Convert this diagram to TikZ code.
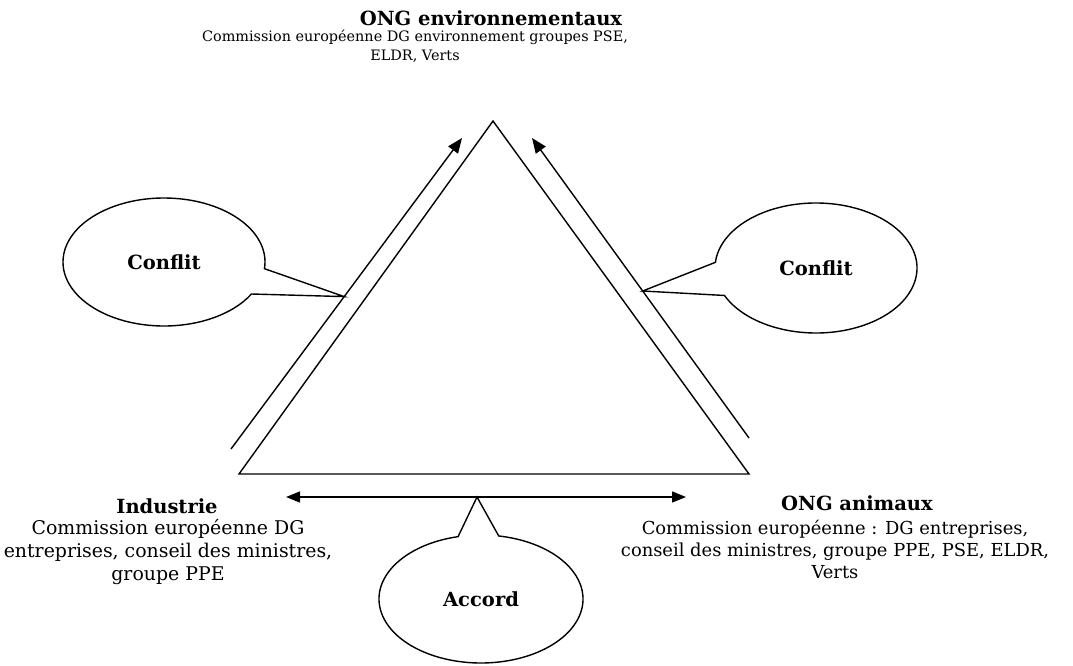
\documentclass[tikz,border=0pt]{standalone}
\usepackage{fontspec}
\setmainfont{DejaVu Serif}
\usetikzlibrary{arrows.meta,calc}
\begin{document}
\begin{tikzpicture}[x=1pt,y=-1pt,
  line/.style={line width=1.4pt, line join=miter},
  arr/.style={line, -{Triangle[length=15pt,width=12pt]}},
  harr/.style={line, {Triangle[length=14pt,width=11pt]}-{Triangle[length=14pt,width=11pt]}},
  bubble/.style={line, fill=white},
  ttl/.style={font=\bfseries\fontsize{19.5}{22}\selectfont, inner sep=0pt},
  bodyA/.style={font=\fontsize{14.4}{18.5}\selectfont, align=center, inner sep=0pt},
  bodyB/.style={font=\fontsize{18.9}{23}\selectfont, align=center, inner sep=0pt},
  bodyC/.style={font=\fontsize{17.9}{22}\selectfont, align=center, inner sep=0pt},
  btxt/.style={font=\bfseries\fontsize{19.5}{22}\selectfont, inner sep=0pt}]
\useasboundingbox (0,0) rectangle (1073,666);
% triangle
\coordinate (A) at (493,121);
\coordinate (B) at (239,474);
\coordinate (C) at (749,474);
\draw[line] (A) -- (B) -- (C) -- cycle;
% arrows
\coordinate (L1) at (231,449);
\coordinate (L2) at (462,138);
\coordinate (R1) at (749,438);
\coordinate (R2) at (532,138);
\coordinate (H1) at (286,497);
\coordinate (H2) at (686,497);
\draw[arr] (L1) -- (L2);
\draw[arr] (R1) -- (R2);
\draw[harr] (H1) -- (H2);
% bubble tips
\coordinate (tL) at ($(L1)!0.49!(L2)$);
\coordinate (tR) at ($(R1)!0.49!(R2)$);
\coordinate (tH) at (477,497);
% left bubble
\coordinate (cL) at (164,262);
\draw[bubble] (tL) -- ($(cL)+(-6:101pt and 64pt)$) arc[start angle=-6, end angle=330, x radius=101pt, y radius=64pt] -- cycle;
\node[btxt] (conflitL) at (cL) {Conflit};
% right bubble
\coordinate (cR) at (816,268);
\draw[bubble] (tR) -- ($(cR)+(205:101pt and 65pt)$) arc[start angle=205, end angle=535, x radius=101pt, y radius=65pt] -- cycle;
\node[btxt] (conflitR) at (cR) {Conflit};
% accord bubble
\coordinate (cA) at (481,599);
\draw[bubble] (tH) -- ($(cA)+(103:102pt and 64pt)$) arc[start angle=103, end angle=440, x radius=102pt, y radius=64pt] -- cycle;
\node[btxt] (accord) at (cA) {Accord};
% texts
\node[ttl] (envT) at (491,18) {ONG environnementaux};
\node[bodyA] (envB) at (415,46) {Commission européenne DG environnement groupes PSE,\\ELDR, Verts};
\node[ttl] (indT) at (167,506) {Industrie};
\node[bodyB] (indB) at (168,552) {Commission européenne DG\\entreprises, conseil des ministres,\\groupe PPE};
\node[ttl] (aniT) at (857,503) {ONG animaux};
\node[bodyC] (aniB) at (835,549) {Commission européenne : DG entreprises,\\conseil des ministres, groupe PPE, PSE, ELDR,\\Verts};
\end{tikzpicture}
\end{document}
